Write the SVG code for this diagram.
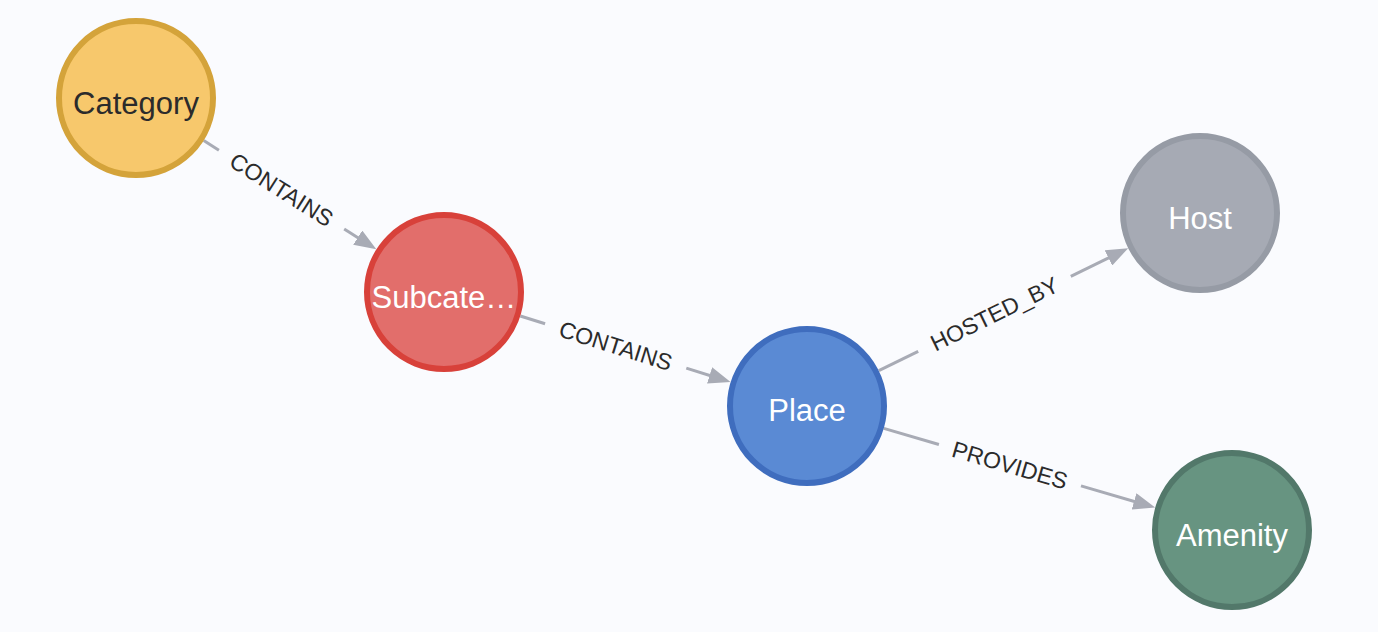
<svg xmlns="http://www.w3.org/2000/svg" width="1378" height="632" viewBox="0 0 1378 632">
  <style>
    .node circle { stroke-width: 6; }
    .node text { font-family: "Liberation Sans", Arial, Helvetica, sans-serif; font-size: 31px; text-anchor: middle; fill: #ffffff; }
    .edge line { stroke: #a8abb5; stroke-width: 3; fill: none; }
    .edge text { font-family: "Liberation Sans", Arial, Helvetica, sans-serif; font-size: 23px; text-anchor: middle; fill: #2b2b2b; }
  </style>
  <defs>
    <marker id="arrow" viewBox="0 0 22 17" refX="11" refY="8.5" markerWidth="22" markerHeight="17" markerUnits="userSpaceOnUse" orient="auto">
      <path d="M0,0 L22,8.5 L0,17 Z" fill="#a8abb5"/>
    </marker>
  </defs>
  <rect x="0" y="0" width="1378" height="632" fill="#fafbfe"/>
  <g id="connectors">
    <g class="edge" id="e-category-subcategory">
      <line x1="203.7" y1="140.6" x2="218.9" y2="150.2"/>
      <line x1="344.2" y1="229.1" x2="367.0" y2="243.5" marker-end="url(#arrow)"/>
      <text transform="translate(281.5,189.7) rotate(32.2)" dy="8">CONTAINS</text>
    </g>
    <g class="edge" id="e-subcategory-place">
      <line x1="520.3" y1="316.0" x2="545.1" y2="323.8"/>
      <line x1="686.3" y1="368.1" x2="720.1" y2="378.7" marker-end="url(#arrow)"/>
      <text transform="translate(615.7,345.9) rotate(17.44)" dy="8">CONTAINS</text>
    </g>
    <g class="edge" id="e-place-host">
      <line x1="878.8" y1="370.7" x2="918.2" y2="351.4"/>
      <line x1="1070.8" y1="276.4" x2="1118.3" y2="253.1" marker-end="url(#arrow)"/>
      <text transform="translate(994.5,313.9) rotate(-26.15)" dy="8">HOSTED_BY</text>
    </g>
    <g class="edge" id="e-place-amenity">
      <line x1="883.8" y1="428.4" x2="938.9" y2="444.5"/>
      <line x1="1081.0" y1="485.9" x2="1144.6" y2="504.5" marker-end="url(#arrow)"/>
      <text transform="translate(1009.9,465.2) rotate(16.27)" dy="8">PROVIDES</text>
    </g>
  </g>
  <g class="node" id="category">
    <circle cx="136" cy="98" r="77" fill="#f7c86c" stroke="#d4a33a"/>
    <text x="136" y="114" style="fill:#2b2b2b">Category</text>
  </g>
  <g class="node" id="subcategory">
    <circle cx="444" cy="292" r="77" fill="#e26e6b" stroke="#d8413a"/>
    <text x="444" y="308">Subcate…</text>
  </g>
  <g class="node" id="place">
    <circle cx="807" cy="406" r="77" fill="#5a8ad4" stroke="#3f6dbe"/>
    <text x="807" y="421">Place</text>
  </g>
  <g class="node" id="host">
    <circle cx="1200" cy="213" r="77" fill="#a6aab4" stroke="#969ba5"/>
    <text x="1200" y="229">Host</text>
  </g>
  <g class="node" id="amenity">
    <circle cx="1232" cy="530" r="77" fill="#679481" stroke="#52786a"/>
    <text x="1232" y="546">Amenity</text>
  </g>
</svg>
